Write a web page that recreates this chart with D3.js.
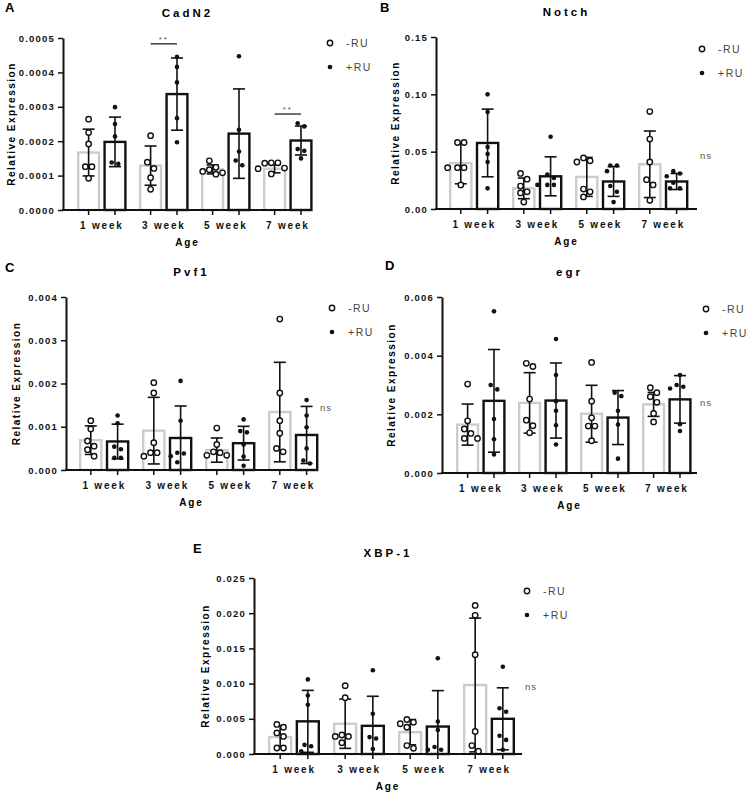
<!DOCTYPE html>
<html>
<head>
<meta charset="utf-8">
<script src="https://cdn.jsdelivr.net/npm/d3@7"></script>
<style>
  body { margin: 0; background: #fff; }
  svg { font-family: 'Liberation Sans', Arial, sans-serif; }
</style>
</head>
<body>
<svg id="chart" width="751" height="795"></svg>
<script>
const weeks = ['1 week', '3 week', '5 week', '7 week']
const groups = ['-RU', '+RU']

// CadN2
const cadn2MinusMean = [0.000167, 0.000129, 0.000118, 0.000120]
const cadn2MinusSd = [0.000068, 0.000057, 0.000013, 0.000012]
const cadn2PlusMean = [0.000198, 0.000337, 0.000222, 0.000202]
const cadn2PlusSd = [0.000072, 0.000105, 0.000130, 0.000042]
const cadn2MinusPts = [
  [0.000264, 0.000225, 0.000192, 0.000126, 0.000126, 0.000092],
  [0.000216, 0.000139, 0.000121, 0.000094, 0.000060],
  [0.000143, 0.000124, 0.000117, 0.000112, 0.000108, 0.000104],
  [0.000137, 0.000137, 0.000136, 0.000122, 0.000120, 0.000105]
]
const cadn2PlusPts = [
  [0.000299, 0.000250, 0.000214, 0.000138, 0.000134],
  [0.000445, 0.000416, 0.000371, 0.000267, 0.000197],
  [0.000447, 0.000233, 0.000170, 0.000144, 0.000130],
  [0.000252, 0.000243, 0.000177, 0.000172, 0.000150]
]
const cadn2Sig = [{ week: '3 week', y: 0.000483, label: '**' }, { week: '7 week', y: 0.000279, label: '**' }]

// Notch
const notchMinusMean = [0.040, 0.018, 0.028, 0.039]
const notchMinusSd = [0.018, 0.009, 0.017, 0.029]
const notchPlusMean = [0.0576, 0.0285, 0.024, 0.024]
const notchPlusSd = [0.0295, 0.017, 0.013, 0.007]
const notchMinusPts = [
  [0.058, 0.058, 0.036, 0.036, 0.036, 0.021],
  [0.031, 0.026, 0.020, 0.015, 0.014, 0.006],
  [0.0445, 0.042, 0.041, 0.0174, 0.015, 0.0105],
  [0.085, 0.061, 0.041, 0.0256, 0.021, 0.0076]
]
const notchPlusPts = [
  [0.100, 0.0846, 0.054, 0.048, 0.041, 0.018],
  [0.063, 0.030, 0.027, 0.021, 0.021, 0.021],
  [0.038, 0.038, 0.033, 0.020, 0.015, 0.006],
  [0.033, 0.031, 0.0285, 0.023, 0.018, 0.018]
]

// Pvf1
const pvf1MinusMean = [0.00069, 0.00091, 0.00046, 0.00134]
const pvf1MinusSd = [0.00033, 0.00077, 0.00028, 0.00115]
const pvf1PlusMean = [0.00066, 0.00074, 0.00062, 0.00081]
const pvf1PlusSd = [0.00040, 0.00074, 0.00039, 0.00066]
const pvf1MinusPts = [
  [0.00114, 0.00095, 0.00067, 0.00055, 0.00047, 0.00032],
  [0.00202, 0.00178, 0.00063, 0.00040, 0.00040, 0.00032],
  [0.00097, 0.00059, 0.00042, 0.00040, 0.00034, 0.00034],
  [0.00349, 0.00178, 0.00114, 0.00085, 0.00050, 0.00042]
]
const pvf1PlusPts = [
  [0.00126, 0.00108, 0.00054, 0.00048, 0.00028, 0.00028],
  [0.00206, 0.00114, 0.00040, 0.00038, 0.00032, 0.00018],
  [0.00117, 0.00090, 0.00087, 0.00059, 0.00031, 0.00010],
  [0.00162, 0.00126, 0.00099, 0.00050, 0.00022, 0.00015]
]

// egr
const egrMinusMean = [0.00165, 0.00239, 0.00202, 0.00234]
const egrMinusSd = [0.00070, 0.00103, 0.00097, 0.00041]
const egrPlusMean = [0.00246, 0.00247, 0.00189, 0.00251]
const egrPlusSd = [0.00175, 0.00128, 0.00092, 0.00081]
const egrMinusPts = [
  [0.00303, 0.00178, 0.00150, 0.00135, 0.00118, 0.00118],
  [0.00374, 0.00363, 0.00252, 0.00180, 0.00161, 0.00137],
  [0.00377, 0.00245, 0.00188, 0.00160, 0.00160, 0.00110],
  [0.00291, 0.00274, 0.00260, 0.00241, 0.00203, 0.00174]
]
const egrPlusPts = [
  [0.00551, 0.00300, 0.00285, 0.00184, 0.00115, 0.00063],
  [0.00457, 0.00334, 0.00245, 0.00212, 0.00163, 0.00097],
  [0.00274, 0.00262, 0.00212, 0.00165, 0.00049],
  [0.00334, 0.00300, 0.00294, 0.00288, 0.00166, 0.00143]
]

// XBP-1
const xbpMinusMean = [0.0024, 0.0043, 0.0031, 0.0098]
const xbpMinusSd = [0.0016, 0.0035, 0.0018, 0.0095]
const xbpPlusMean = [0.00464, 0.0040, 0.0039, 0.0050]
const xbpPlusSd = [0.0044, 0.0042, 0.0051, 0.0044]
const xbpMinusPts = [
  [0.0042, 0.0038, 0.0030, 0.0025, 0.00085, 0.00085],
  [0.0097, 0.0080, 0.0027, 0.0025, 0.0025, 0.0016],
  [0.0049, 0.0045, 0.0043, 0.0038, 0.0012, 0.0008],
  [0.0211, 0.0197, 0.0141, 0.0032, 0.0012, 0.0004]
]
const xbpPlusPts = [
  [0.0106, 0.0083, 0.0070, 0.0013, 0.0011, 0.0004],
  [0.0119, 0.0057, 0.0024, 0.0022, 0.0007],
  [0.0136, 0.0046, 0.0034, 0.0010, 0.0006, 0.0006],
  [0.0124, 0.0065, 0.0060, 0.0026, 0.0020, 0.0006]
]

// layout of each panel (pixels) + which arrays it uses
const panels = [
  { letter: 'A', title: 'CadN2', lx: 5, ly: 12, x0: 63, x1: 312, y0: 210, y1: 38, barStart: 77, step: 62,
    max: 0.0005, tick: 0.0001, fmt: '.4f', legX: 330, legY: 43, ytX: 11, ns: null, sig: cadn2Sig,
    minus: [cadn2MinusMean, cadn2MinusSd, cadn2MinusPts], plus: [cadn2PlusMean, cadn2PlusSd, cadn2PlusPts] },
  { letter: 'B', title: 'Notch', lx: 380, ly: 12, x0: 436, x1: 697, y0: 209, y1: 37, barStart: 449, step: 63,
    max: 0.15, tick: 0.05, fmt: '.2f', legX: 702, legY: 49, ytX: 395, ns: 0.046, sig: [],
    minus: [notchMinusMean, notchMinusSd, notchMinusPts], plus: [notchPlusMean, notchPlusSd, notchPlusPts] },
  { letter: 'C', title: 'Pvf1', lx: 5, ly: 272, x0: 66, x1: 317, y0: 470, y1: 297, barStart: 79, step: 63,
    max: 0.004, tick: 0.001, fmt: '.3f', legX: 332, legY: 308, ytX: 16, ns: 0.00143, sig: [],
    minus: [pvf1MinusMean, pvf1MinusSd, pvf1MinusPts], plus: [pvf1PlusMean, pvf1PlusSd, pvf1PlusPts] },
  { letter: 'D', title: 'egr', lx: 385, ly: 270, x0: 442, x1: 697, y0: 473, y1: 297, barStart: 456, step: 62,
    max: 0.006, tick: 0.002, fmt: '.3f', legX: 706, legY: 309, ytX: 391, ns: 0.0024, sig: [],
    minus: [egrMinusMean, egrMinusSd, egrMinusPts], plus: [egrPlusMean, egrPlusSd, egrPlusPts] },
  { letter: 'E', title: 'XBP-1', lx: 193, ly: 553, x0: 254, x1: 522, y0: 754, y1: 578, barStart: 268, step: 65,
    max: 0.025, tick: 0.005, fmt: '.3f', legX: 527, legY: 591, ytX: 205, ns: 0.0095, sig: [],
    minus: [xbpMinusMean, xbpMinusSd, xbpMinusPts], plus: [xbpPlusMean, xbpPlusSd, xbpPlusPts] }
]

const svg = d3.select('#chart')

// simple beeswarm: put equal-ish values side by side
function swarm (values, y, r) {
  const placed = []
  const d = 2 * r + 0.6
  values.forEach(v => {
    const py = y(v)
    const near = placed.filter(p => Math.abs(p.y - py) < d)
    let x = 0
    if (near.length) {
      const cands = []
      for (let k = 1; k <= 6; k++) cands.push(-k * d / 2, k * d / 2)
      x = cands.find(c => near.every(p => Math.hypot(p.x - c, p.y - py) >= d)) || 0
      if (near.length === 1 && near[0].x === 0) { near[0].x = -d / 2; x = d / 2 }
    }
    placed.push({ v, x, y: py })
  })
  return placed
}

panels.forEach(p => {
  const g = svg.append('g')
  const y = d3.scaleLinear().domain([0, p.max]).range([p.y0, p.y1])
  const xg = d3.scaleBand().domain(weeks)
    .range([p.barStart - 0.1 * p.step, p.barStart + 3.9 * p.step])
    .paddingInner(0.2).paddingOuter(0.1)
  const xs = d3.scaleBand().domain(groups).range([0, xg.bandwidth()]).paddingInner(0.12)
  const bw = xs.bandwidth()

  // panel letter + title
  g.append('text').attr('x', p.lx).attr('y', p.ly)
    .attr('font-size', 13).attr('font-weight', 'bold').text(p.letter)
  g.append('text').attr('x', (p.x0 + p.x1) / 2).attr('y', p.y1 - 21)
    .attr('text-anchor', 'middle').attr('font-size', 11.5).attr('font-weight', 'bold')
    .attr('letter-spacing', 3).text(p.title)

  // bars
  const series = [
    { key: '-RU', d: p.minus, stroke: '#cccccc' },
    { key: '+RU', d: p.plus, stroke: '#111' }
  ]
  series.forEach(s => {
    const [mean, sd, pts] = s.d
    weeks.forEach((w, i) => {
      const bx = xg(w) + xs(s.key)
      const cx = bx + bw / 2
      g.append('rect')
        .attr('x', bx + 1.2).attr('width', bw - 2.4)
        .attr('y', y(mean[i])).attr('height', p.y0 - y(mean[i]))
        .attr('fill', 'none').attr('stroke', s.stroke).attr('stroke-width', 2.4)
      // error bar
      const eg = g.append('g').attr('stroke', '#111').attr('stroke-width', 1.6)
      const hi = y(mean[i] + sd[i])
      const lo = y(Math.max(0, mean[i] - sd[i]))
      eg.append('line').attr('x1', cx).attr('x2', cx).attr('y1', hi).attr('y2', lo)
      eg.append('line').attr('x1', cx - 6).attr('x2', cx + 6).attr('y1', hi).attr('y2', hi)
      eg.append('line').attr('x1', cx - 6).attr('x2', cx + 6).attr('y1', lo).attr('y2', lo)
      // points
      const r = s.key === '-RU' ? 2.7 : 2.3
      swarm(pts[i], y, 3).forEach(pt => {
        g.append('circle').attr('cx', cx + pt.x).attr('cy', pt.y).attr('r', r)
          .attr('fill', s.key === '-RU' ? '#fff' : '#111')
          .attr('stroke', '#111').attr('stroke-width', s.key === '-RU' ? 1.4 : 0)
      })
    })
  })

  // y axis
  const yAxis = d3.axisLeft(y)
    .tickValues(d3.range(0, p.max + p.tick / 2, p.tick))
    .tickFormat(d3.format(p.fmt)).tickSize(5).tickSizeOuter(0).tickPadding(3)
  const ya = g.append('g').attr('transform', `translate(${p.x0},0)`).call(yAxis)
  ya.select('.domain').attr('stroke-width', 2).attr('stroke', '#111')
  ya.selectAll('.tick line').attr('stroke-width', 1.5).attr('stroke', '#111')
  ya.selectAll('.tick text').attr('font-size', 9.5).attr('font-weight', 'bold')
    .attr('letter-spacing', 1.2).attr('fill', '#111').attr('font-family', null)

  // x axis
  g.append('line').attr('x1', p.x0 - 1).attr('x2', p.x1).attr('y1', p.y0).attr('y2', p.y0)
    .attr('stroke', '#111').attr('stroke-width', 2)
  weeks.forEach(w => groups.forEach(k => {
    const cx = xg(w) + xs(k) + bw / 2
    g.append('line').attr('x1', cx).attr('x2', cx).attr('y1', p.y0).attr('y2', p.y0 + 5)
      .attr('stroke', '#111').attr('stroke-width', 1.5)
  }))
  const xAxis = d3.axisBottom(xg).tickSize(0).tickPadding(12)
  const xa = g.append('g').attr('transform', `translate(0,${p.y0})`).call(xAxis)
  xa.select('.domain').remove()
  xa.selectAll('.tick text').attr('font-size', 10).attr('font-weight', 'bold')
    .attr('letter-spacing', 1.8).attr('fill', '#111').attr('font-family', null)

  // axis titles
  g.append('text').attr('x', (p.x0 + p.x1) / 2).attr('y', p.y0 + 36)
    .attr('text-anchor', 'middle').attr('font-size', 10).attr('font-weight', 'bold')
    .attr('letter-spacing', 1.8).text('Age')
  g.append('text')
    .attr('transform', `translate(${p.ytX + 4},${(p.y0 + p.y1) / 2}) rotate(-90)`)
    .attr('text-anchor', 'middle').attr('font-size', 10).attr('font-weight', 'bold')
    .attr('letter-spacing', 1.5).text('Relative Expression')

  // legend
  groups.forEach((k, i) => {
    const ly = p.legY + i * 24
    g.append('circle').attr('cx', p.legX).attr('cy', ly).attr('r', k === '-RU' ? 2.7 : 2.3)
      .attr('fill', k === '-RU' ? '#fff' : '#111').attr('stroke', '#111')
      .attr('stroke-width', k === '-RU' ? 1.4 : 0)
    g.append('text').attr('x', p.legX + 16).attr('y', ly + 4)
      .attr('font-size', 10.5).attr('letter-spacing', 1.5).attr('fill', '#444').text(k)
  })

  // ns annotation
  if (p.ns !== null) {
    g.append('text').attr('x', p.x1 + 3).attr('y', y(p.ns) + 3)
      .attr('font-size', 9.5).attr('letter-spacing', 1).attr('fill', '#555').text('ns')
  }

  // significance lines
  p.sig.forEach(s => {
    const xa1 = xg(s.week) + xs('-RU') + bw / 2
    const xa2 = xg(s.week) + xs('+RU') + bw / 2
    g.append('line').attr('x1', xa1).attr('x2', xa2).attr('y1', y(s.y)).attr('y2', y(s.y))
      .attr('stroke', '#111').attr('stroke-width', 1.2)
    g.append('text').attr('x', (xa1 + xa2) / 2).attr('y', y(s.y) - 2)
      .attr('text-anchor', 'middle').attr('font-size', 8).attr('letter-spacing', 2)
      .attr('fill', '#555').text(s.label)
  })
})
</script>
</body>
</html>
